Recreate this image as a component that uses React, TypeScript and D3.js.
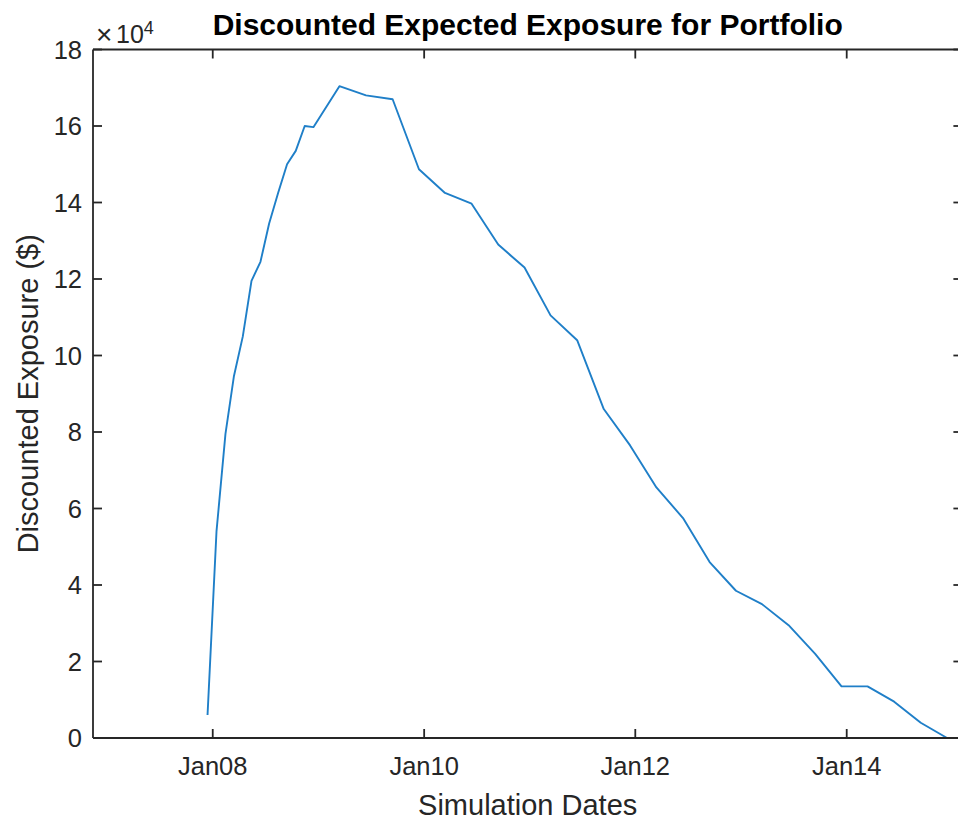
import React from 'react';
import * as d3 from 'd3';

// Simulation dates (monthly for the first year, then quarterly)
const simDates: string[] = [
  '2007-12-14', '2008-01-14', '2008-02-14', '2008-03-14', '2008-04-14', '2008-05-14',
  '2008-06-14', '2008-07-14', '2008-08-14', '2008-09-14', '2008-10-14', '2008-11-14',
  '2008-12-14', '2009-03-14', '2009-06-14', '2009-09-14', '2009-12-14', '2010-03-14',
  '2010-06-14', '2010-09-14', '2010-12-14', '2011-03-14', '2011-06-14', '2011-09-14',
  '2011-12-14', '2012-03-14', '2012-06-14', '2012-09-14', '2012-12-14', '2013-03-14',
  '2013-06-14', '2013-09-14', '2013-12-14', '2014-03-14', '2014-06-14', '2014-09-14',
  '2014-12-14',
];

// Discounted expected exposure ($)
const exposure: number[] = [
  6000, 54000, 79500, 94500, 105000, 119500,
  124500, 134500, 142500, 150000, 153500, 160000,
  159700, 170400, 168000, 167000, 148700, 142500,
  139700, 129000, 123000, 110500, 104000, 86000,
  76500, 65500, 57500, 46000, 38500, 35000,
  29500, 22000, 13500, 13500, 9500, 4000,
  0,
];

const yTicks: number[] = [0, 20000, 40000, 60000, 80000, 100000, 120000, 140000, 160000, 180000];
const yTickLabels: string[] = ['0', '2', '4', '6', '8', '10', '12', '14', '16', '18'];
const xTickDates: string[] = ['2008-01-01', '2010-01-01', '2012-01-01', '2014-01-01'];
const xTickLabels: string[] = ['Jan08', 'Jan10', 'Jan12', 'Jan14'];
const xDomain: string[] = ['2006-11-13', '2015-02-05'];
const yDomain: number[] = [0, 180000];

const W = 958;
const H = 821;
const left = 93;
const right = 962.4;
const top = 49.5;
const bottom = 738;
const font = '"Liberation Sans", Arial, Helvetica, sans-serif';
const axisColor = '#262626';
const tickLen = 9;

export default function App() {
  const parse = d3.utcParse('%Y-%m-%d');
  const x = d3.scaleUtc().domain(xDomain.map((d) => parse(d) as Date)).range([left, right]);
  const y = d3.scaleLinear().domain(yDomain).range([bottom, top]);

  const pts: [number, number][] = simDates.map((d, i) => [x(parse(d) as Date), y(exposure[i])]);
  const line = d3.line<[number, number]>().x((d) => d[0]).y((d) => d[1]);

  return (
    <svg
      width={W}
      height={H}
      style={{ position: 'absolute', left: 0, top: 0, background: '#fff', overflow: 'hidden' }}
    >
      <rect x={0} y={0} width={W} height={H} fill="#fff" />
      {/* data line */}
      <path d={line(pts) || ''} fill="none" stroke="#1f7fc8" strokeWidth={1.9} strokeLinejoin="round" />

      {/* axes box */}
      <g stroke={axisColor} strokeWidth={1.8} fill="none">
        <line x1={left} y1={bottom} x2={right} y2={bottom} />
        <line x1={left} y1={top} x2={right} y2={top} />
        <line x1={left} y1={top} x2={left} y2={bottom} />
        <line x1={right} y1={top} x2={right} y2={bottom} />
        {xTickDates.map((d) => {
          const xx = x(parse(d) as Date);
          return (
            <g key={d}>
              <line x1={xx} y1={bottom} x2={xx} y2={bottom - tickLen} />
              <line x1={xx} y1={top} x2={xx} y2={top + tickLen} />
            </g>
          );
        })}
        {yTicks.map((t) => {
          const yy = y(t);
          return (
            <g key={t}>
              <line x1={left} y1={yy} x2={left + tickLen} y2={yy} />
              <line x1={right} y1={yy} x2={right - tickLen} y2={yy} />
            </g>
          );
        })}
      </g>

      {/* tick labels */}
      <g fill={axisColor} fontFamily={font} fontSize={25.5}>
        {xTickDates.map((d, i) => (
          <text key={d} x={x(parse(d) as Date)} y={775} textAnchor="middle">
            {xTickLabels[i]}
          </text>
        ))}
        {yTicks.map((t, i) => (
          <text key={t} x={82} y={y(t)} textAnchor="end" dominantBaseline="central">
            {yTickLabels[i]}
          </text>
        ))}
      </g>

      {/* exponent */}
      <text x={96} y={43} fill={axisColor} fontFamily={font} fontSize={25}>
        <tspan fontSize={28} dy={1}>{'\u00d7'}</tspan>
        <tspan x={116} dy={-1}>10</tspan>
        <tspan fontSize={18} dy={-9}>4</tspan>
      </text>

      {/* title */}
      <text
        x={(left + right) / 2}
        y={35}
        textAnchor="middle"
        fontFamily={font}
        fontWeight="bold"
        fontSize={30}
        fill="#000"
      >
        Discounted Expected Exposure for Portfolio
      </text>

      {/* axis labels */}
      <text x={(left + right) / 2} y={815} textAnchor="middle" fontFamily={font} fontSize={29} fill={axisColor}>
        Simulation Dates
      </text>
      <text
        transform={`translate(38,${(top + bottom) / 2}) rotate(-90)`}
        textAnchor="middle"
        fontFamily={font}
        fontSize={29}
        fill={axisColor}
      >
        Discounted Exposure ($)
      </text>
    </svg>
  );
}
